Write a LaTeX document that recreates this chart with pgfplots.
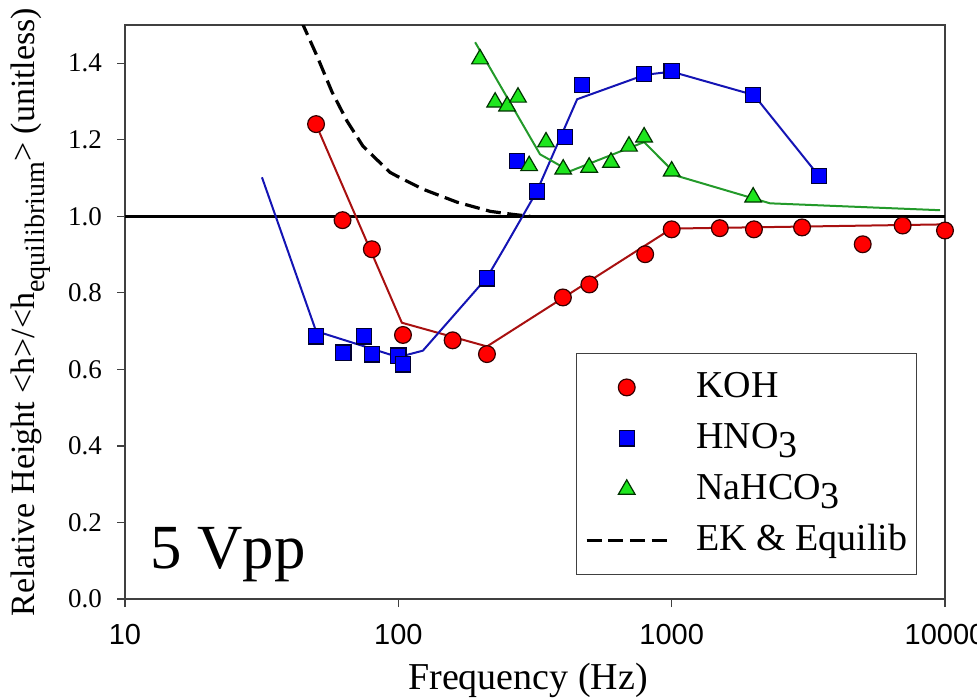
\documentclass[border=0pt]{standalone}
\usepackage{fontspec}
\setmainfont{Liberation Serif}
\setsansfont{Liberation Sans}
\usepackage{pgfplots}
\pgfplotsset{compat=1.18}
\definecolor{kohline}{HTML}{A81010}
\definecolor{hnoline}{HTML}{1414B4}
\definecolor{naline}{HTML}{239A2A}
\definecolor{mgreen}{HTML}{1EE61E}
\begin{document}
\begin{tikzpicture}
\begin{axis}[
  name=ax,
  scale only axis, width=410pt, height=287pt,
  xmode=log, xmin=10, xmax=10000, ymin=0, ymax=1.5,
  xtick={10,100,1000,10000}, xticklabels={10,100,1000,10000},
  xminorticks=false,
  ytick={0,0.2,0.4,0.6,0.8,1.0,1.2,1.4},
  yticklabels={0.0,0.2,0.4,0.6,0.8,1.0,1.2,1.4},
  tick pos=left, tick align=outside, major tick length=4pt,
  axis line style={draw=black!75, line width=0.6pt},
  every tick/.style={black!75, line width=0.6pt},
  xticklabel style={font=\sffamily\fontsize{14.5}{17}\selectfont, yshift=-5pt},
  yticklabel style={font=\rmfamily\fontsize{13.5}{16}\selectfont, xshift=-4pt},
  xlabel={Frequency (Hz)},
  xlabel style={font=\fontsize{19}{22}\selectfont, at={(axis description cs:0.4915,-0.1585)}, anchor=base},
  ylabel={Relative Height <h>/<h\raisebox{-0.3em}{\fontsize{14}{14}\selectfont equilibrium}> (unitless)},
  ylabel style={font=\fontsize{17}{20}\selectfont, at={(axis description cs:-0.1146,0.5)}, anchor=center},
  legend image code/.code={\draw[mark repeat=2,mark phase=2,#1] plot coordinates {(-20pt,0pt) (0pt,0pt) (20pt,0pt)};},
  legend cell align=left,
  legend style={at={(axis description cs:0.9659,0.0418)}, anchor=south east,
    draw=black!75, line width=0.6pt, inner xsep=4.5pt, inner ysep=8pt,
    row sep=7.5pt, column sep=14pt, font=\fontsize{19}{22}\selectfont,
    nodes={inner sep=0pt, text height=14pt, text depth=4pt}},
]
% reference line at 1
\addplot[black, line width=1.2pt, forget plot] coordinates {(10,1) (10000,1)};
% fitted lines
\addplot[kohline, line width=1pt, forget plot] coordinates {
 (50,1.24) (103,0.722) (211,0.66) (1000,0.968) (10000,0.979)};
\addplot[hnoline, line width=1pt, forget plot] coordinates {
 (31.7,1.102) (50,0.70) (100,0.632) (123,0.649) (211,0.84) (245,0.919) (321,1.065) (451,1.306) (800,1.37) (1000,1.378) (2000,1.317) (3460,1.105)};
\addplot[naline, line width=1pt, forget plot] coordinates {
 (191,1.455) (330,1.162) (425,1.118) (793,1.194) (1054,1.105) (2290,1.034) (9600,1.016)};
% markers
\addplot[only marks, mark=*, mark size=4.2pt, mark options={fill=red, draw=black!80!red, line width=0.6pt}] coordinates {
 (50,1.241) (62.5,0.99) (80,0.914) (104,0.690) (158,0.676) (211,0.640) (400,0.788) (500,0.822) (800,0.901) (1000,0.966) (1500,0.969) (2000,0.966) (3000,0.971) (5000,0.927) (7000,0.976) (10000,0.963)};
\addlegendentry{KOH}
\addplot[only marks, mark=square*, mark size=3.8pt, mark options={fill=blue, draw=black!80!blue, line width=0.6pt}] coordinates {
 (50,0.686) (63,0.644) (75,0.686) (80,0.639) (100,0.636) (104,0.613) (211,0.838) (272,1.144) (321,1.065) (407,1.207) (470,1.343) (793,1.372) (1000,1.380) (1987,1.317) (3460,1.105)};
\addlegendentry{HNO\raisebox{-0.25em}{3}}
\addplot[only marks, mark=triangle*, mark size=4.8pt, mark options={fill=mgreen, draw=black!80!green, line width=0.6pt}] coordinates {
 (199,1.411) (226,1.298) (250,1.288) (274,1.311) (301,1.132) (347,1.194) (401,1.123) (499,1.128) (600,1.141) (698,1.183) (793,1.207) (1000,1.118) (1987,1.050)};
\addlegendentry{NaHCO\raisebox{-0.25em}{3}}
\addplot[black, line width=1.6pt, dash pattern=on 7.5pt off 3.3pt] coordinates {
 (44.2,1.51) (50.4,1.419) (57.2,1.325) (64.9,1.249) (74.3,1.183) (93.2,1.115) (98.9,1.105) (123,1.071) (164,1.037) (217,1.013) (263,1.005) (304,1.0)};
\addlegendentry{EK \& Equilib}
\node[anchor=base west, font=\fontsize{31.4}{36}\selectfont, inner sep=0pt] at (rel axis cs:0.0305,0.054) {5 Vpp};
\end{axis}
\pgfresetboundingbox
\path[use as bounding box] ([xshift=-62.5pt,yshift=-49.5pt]ax.south west) rectangle ([xshift=16pt,yshift=12.5pt]ax.north east);
\end{tikzpicture}
\end{document}
